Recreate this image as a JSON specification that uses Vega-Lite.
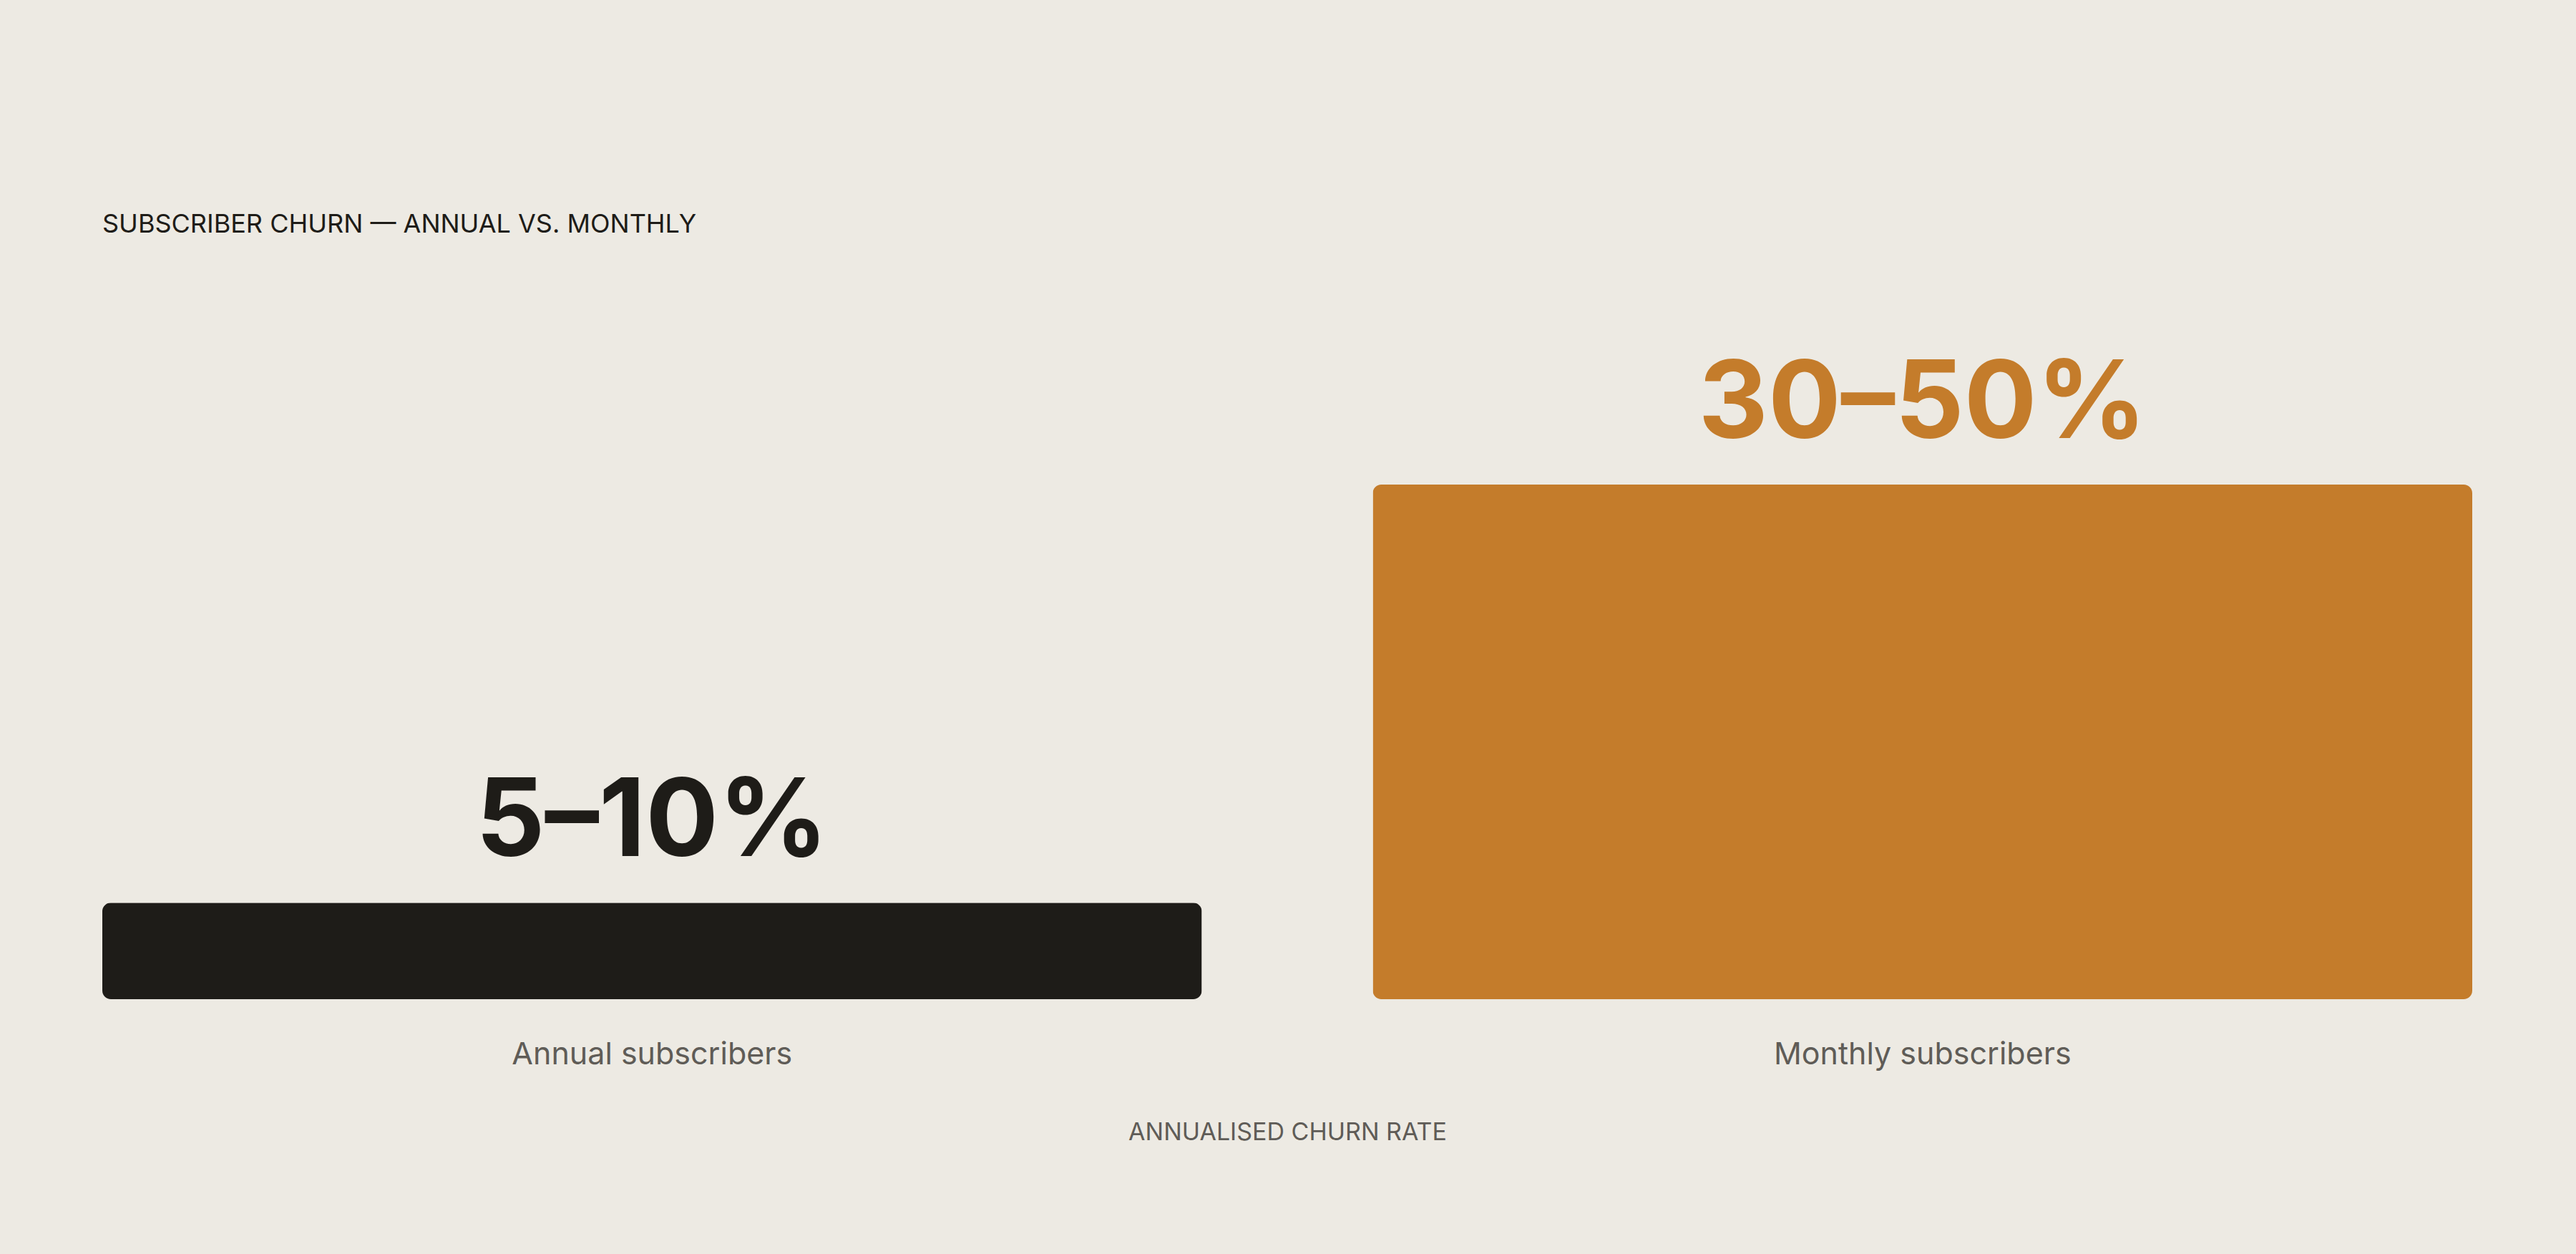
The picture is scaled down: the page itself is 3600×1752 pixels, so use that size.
{
  "$schema": "https://vega.github.io/schema/vega-lite/v6.json",
  "description": "Subscriber churn, annual vs monthly plans, bars at the midpoint of each range",
  "autosize": {"type": "none"},
  "padding": {"left": 143, "top": 677, "right": 145, "bottom": 356},
  "width": 3312,
  "height": 719,
  "background": "#EDEAE3",
  "title": {
    "text": "SUBSCRIBER CHURN — ANNUAL VS. MONTHLY",
    "anchor": "start",
    "frame": "group",
    "baseline": "alphabetic",
    "offset": 130,
    "font": "Inter",
    "fontSize": 36,
    "fontWeight": 400,
    "color": "#1E1C18"
  },
  "data": {
    "values": [
      {"segment": "Annual subscribers", "mid": 7.5, "label": "5–10%"},
      {"segment": "Monthly subscribers", "mid": 40, "label": "30–50%"}
    ]
  },
  "encoding": {
    "x": {
      "field": "segment",
      "type": "nominal",
      "sort": null,
      "scale": {"paddingInner": 0.1346, "paddingOuter": 0},
      "axis": {
        "title": "ANNUALISED CHURN RATE",
        "labelAngle": 0,
        "labelLimit": 0,
        "labelFont": "Inter",
        "labelFontSize": 43,
        "labelColor": "#5F5C57",
        "labelPadding": 56,
        "titleFont": "Inter",
        "titleFontSize": 34,
        "titleFontWeight": 400,
        "titleColor": "#5F5C57",
        "titlePadding": 70,
        "domain": false,
        "ticks": false,
        "grid": false
      }
    },
    "y": {
      "field": "mid",
      "type": "quantitative",
      "scale": {"domain": [0, 40], "nice": false},
      "axis": null
    },
    "color": {
      "field": "segment",
      "type": "nominal",
      "scale": {
        "domain": ["Annual subscribers", "Monthly subscribers"],
        "range": ["#1E1C18", "#C47C2B"]
      },
      "legend": null
    }
  },
  "layer": [
    {"mark": {"type": "bar", "cornerRadius": 12}},
    {
      "mark": {
        "type": "text",
        "baseline": "alphabetic",
        "dy": -65,
        "font": "Inter",
        "fontSize": 151,
        "fontWeight": 700
      },
      "encoding": {"text": {"field": "label"}}
    }
  ],
  "config": {"view": {"stroke": null}}
}
